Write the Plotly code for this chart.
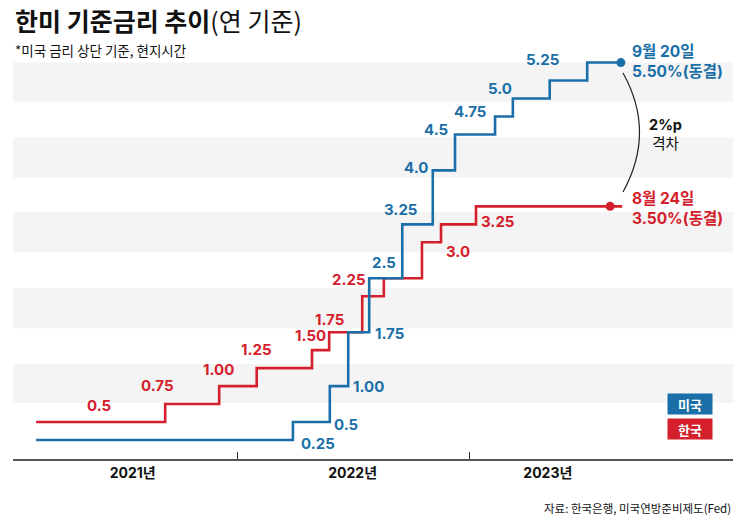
import pandas as pd
import plotly.graph_objects as go

# ---------------- data ----------------
us_dates = ["2021-02-19", "2022-03-30", "2022-05-27", "2022-06-25", "2022-07-28",
            "2022-09-18", "2022-11-05", "2022-12-10", "2023-02-11", "2023-03-11",
            "2023-05-08", "2023-07-06"]
us_rates = [0.25, 0.5, 1.00, 1.75, 2.5, 3.25, 4.0, 4.5, 4.75, 5.0, 5.25, 5.5]
us_end_date = "2023-08-28"
us_labels = ["0.25", "0.5", "1.00", "1.75", "2.5", "3.25", "4.0", "4.5", "4.75", "5.0", "5.25"]

kr_dates = ["2021-02-19", "2021-09-10", "2021-12-04", "2022-02-01", "2022-04-29",
            "2022-05-26", "2022-07-17", "2022-08-20", "2022-10-19", "2022-11-18",
            "2023-01-12"]
kr_rates = [0.5, 0.75, 1.00, 1.25, 1.50, 1.75, 2.25, 2.5, 3.0, 3.25, 3.5]
kr_end_date = "2023-08-30"
kr_marker_date = "2023-08-11"
kr_labels = ["0.5", "0.75", "1.00", "1.25", "1.50", "1.75", "2.25", None, "3.0", "3.25", None]

year_labels = ["2021년", "2022년", "2023년"]
year_label_dates = ["2021-07-21", "2022-07-02", "2023-05-05"]
year_boundaries = ["2022-01-01", "2023-01-01"]

us_final_date_text = "9월 20일"
kr_final_date_text = "8월 24일"
gap_text = "2%p"

# ---------------- styles / positions ----------------
BLUE = "#1b6fa8"
RED = "#d4202c"
BAND = "#f4f4f4"
FONT = "Inter, 'Noto Sans CJK KR', sans-serif"
KFONT = "'Noto Sans CJK KR', sans-serif"

W, H = 743, 519
L, R, T, B = 13, 10, 40, 60
PW, PH = W - L - R, H - T - B

def px(x):
    return (x - L) / PW

def py(y):
    return (H - B - y) / PH

# label shifts (pixels) relative to each step corner
us_shifts = [(282, -3), (53, -2), (39, 0), (41, -1), (15, 16), (-2, 15),
             (-17, 3), (-19, 5), (-25, 5), (-13, 10), (-7, 21)]
kr_shifts = [(63, 17), (-8, 19), (-1, 17), (0, 19), (-2, 15), (0, 13),
             (-13, 17), None, (36, -9), (56, 3), None]

t2022 = pd.Timestamp("2022-01-01")
day_px = 232 / 365.0
x_start = t2022 - pd.Timedelta(days=(237 - L) / day_px)
x_end = pd.Timestamp("2023-01-01") + pd.Timedelta(days=(L + PW - 469) / day_px)

fig = go.Figure()

# background bands (decorative)
for y0, y1 in [(0.764, 1.306), (1.806, 2.36), (2.86, 3.42), (3.90, 4.46), (4.96, 5.5)]:
    fig.add_shape(type="rect", xref="paper", x0=0, x1=1, yref="y", y0=y0, y1=y1,
                  fillcolor=BAND, line_width=0, layer="below")

# step lines
fig.add_trace(go.Scatter(x=kr_dates + [kr_end_date], y=kr_rates + [kr_rates[-1]],
                         mode="lines", line=dict(color=RED, width=2.6, shape="hv"),
                         hoverinfo="skip", showlegend=False))
fig.add_trace(go.Scatter(x=us_dates + [us_end_date], y=us_rates + [us_rates[-1]],
                         mode="lines", line=dict(color=BLUE, width=2.6, shape="hv"),
                         hoverinfo="skip", showlegend=False))
fig.add_trace(go.Scatter(x=[us_end_date], y=[us_rates[-1]], mode="markers",
                         marker=dict(color=BLUE, size=9), showlegend=False, hoverinfo="skip"))
fig.add_trace(go.Scatter(x=[kr_marker_date], y=[kr_rates[-1]], mode="markers",
                         marker=dict(color=RED, size=9), showlegend=False, hoverinfo="skip"))

ann = []
for d, v, t, s in zip(us_dates, us_rates, us_labels, us_shifts):
    ann.append(dict(x=d, y=v, xref="x", yref="y", text=f"<b>{t}</b>", showarrow=False,
                    xshift=s[0], yshift=s[1], font=dict(family=FONT, size=15, color=BLUE),
                    xanchor="center", yanchor="middle"))
for d, v, t, s in zip(kr_dates, kr_rates, kr_labels, kr_shifts):
    if t is None:
        continue
    ann.append(dict(x=d, y=v, xref="x", yref="y", text=f"<b>{t}</b>", showarrow=False,
                    xshift=s[0], yshift=s[1], font=dict(family=FONT, size=15, color=RED),
                    xanchor="center", yanchor="middle"))

# end annotations (two lines each)
ann.append(dict(x=us_end_date, y=us_rates[-1], xref="x", yref="y",
                text=f"<b>{us_final_date_text}<br>{us_rates[-1]:.2f}%(동결)</b>",
                showarrow=False, xanchor="left", yanchor="middle", align="left",
                xshift=10, yshift=1, borderpad=0,
                font=dict(family=FONT, size=15.5, color=BLUE)))
ann.append(dict(x=kr_marker_date, y=kr_rates[-1], xref="x", yref="y",
                text=f"<b>{kr_final_date_text}<br>{kr_rates[-1]:.2f}%(동결)</b>",
                showarrow=False, xanchor="left", yanchor="middle", align="left",
                xshift=21, yshift=-2, borderpad=0,
                font=dict(family=FONT, size=15.5, color=RED)))

# gap text
ann.append(dict(x=px(665), y=py(134), xref="paper", yref="paper",
                text=f"<b>{gap_text}</b><br>격차", borderpad=0,
                showarrow=False, xanchor="center", yanchor="middle", align="center",
                font=dict(family=FONT, size=14.5, color="#111")))

# arc
p0 = (px(623), py(73)); c = (px(656), py(132)); p2 = (px(623), py(192))
fig.add_shape(type="path", xref="paper", yref="paper",
              path=f"M {p0[0]},{p0[1]} Q {c[0]},{c[1]} {p2[0]},{p2[1]}",
              line=dict(color="#222", width=1.2))

# legend boxes
for txt, col, cy in [("미국", BLUE, 404), ("한국", RED, 429)]:
    ann.append(dict(x=px(690), y=py(cy), xref="paper", yref="paper", text=f"<b>{txt}</b>",
                    showarrow=False, xanchor="center", yanchor="middle", bgcolor=col,
                    width=44, height=20, borderpad=0,
                    font=dict(family=KFONT, size=13, color="white")))

# title, subtitle, source
ann.append(dict(x=0, y=py(20), xref="paper", yref="paper", xanchor="left", yanchor="middle",
                text="<b>한미 기준금리 추이</b>(연 기준)", showarrow=False,
                font=dict(family=KFONT, size=25, color="#111")))
ann.append(dict(x=0, y=py(50), xref="paper", yref="paper", xanchor="left", yanchor="middle",
                text="*미국 금리 상단 기준, 현지시간", showarrow=False,
                font=dict(family=KFONT, size=13.5, color="#111")))
ann.append(dict(x=1, y=py(508), xref="paper", yref="paper", xanchor="right", yanchor="middle",
                text="자료: 한국은행, 미국연방준비제도(Fed)", showarrow=False,
                font=dict(family=KFONT, size=11.5, color="#111")))

fig.update_layout(
    width=W, height=H,
    margin=dict(l=L, r=R, t=T, b=B),
    paper_bgcolor="white", plot_bgcolor="white",
    annotations=ann,
    showlegend=False,
    xaxis=dict(type="date", range=[x_start, x_end], showgrid=False, zeroline=False,
               showline=True, linecolor="#555", linewidth=1.5,
               tickmode="array", tickvals=year_label_dates, ticktext=[f"<b>{t}</b>" for t in year_labels],
               ticks="", tickfont=dict(family=FONT, size=14, color="#111"),
               minor=dict(tickmode="array", tickvals=year_boundaries, ticks="inside",
                          ticklen=7, tickwidth=1.2, tickcolor="#333", showgrid=False),
               fixedrange=True),
    yaxis=dict(range=[-0.014, 5.814], showgrid=False, zeroline=False, showticklabels=False,
               showline=False, ticks="", fixedrange=True),
)

fig.write_html("out.html")
